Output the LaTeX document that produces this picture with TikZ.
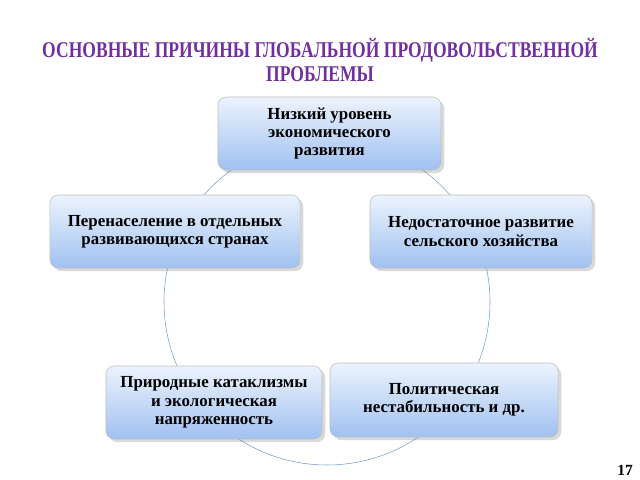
\documentclass[tikz,border=0pt]{standalone}
\usepackage{fontspec}
\setmainfont{Liberation Serif}
\usetikzlibrary{shadows}
\definecolor{titlepurple}{RGB}{112,48,160}
\definecolor{boxtop}{RGB}{236,243,253}
\definecolor{boxbottom}{RGB}{160,193,240}
\definecolor{ringblue}{RGB}{120,160,200}
\tikzset{
  cause/.style={draw=black!25, rounded corners=6pt, top color=boxtop, bottom color=boxbottom,
    drop shadow={opacity=0.3}, align=center, font=\bfseries\fontsize{12}{13}\selectfont,
    inner sep=0pt},
  heading/.style={text=titlepurple, font=\bfseries\fontsize{16}{17}\selectfont, align=center}
}
\begin{document}
\begin{tikzpicture}[x=0.025cm,y=-0.025cm]
  \useasboundingbox (0,0) rectangle (640,480);
  % ring behind the boxes
  \draw[ringblue] (327,302) circle (163);
  \node[heading] (title) at (320,60)
    {\scalebox{0.78}[1]{ОСНОВНЫЕ ПРИЧИНЫ ГЛОБАЛЬНОЙ ПРОДОВОЛЬСТВЕННОЙ}\\\scalebox{0.78}[1]{ПРОБЛЕМЫ}};
  \node[cause, minimum width=5.575cm, minimum height=1.825cm] (econ) at (329.5,133.5)
    {Низкий уровень\\экономического\\развития};
  \node[cause, minimum width=6.25cm, minimum height=1.825cm] (overpop) at (175,231.5)
    {Перенаселение в отдельных\\развивающихся странах};
  \node[cause, minimum width=5.55cm, minimum height=1.825cm] (agri) at (481,231.5)
    {Недостаточное развитие\\сельского хозяйства};
  \node[cause, minimum width=5.4cm, minimum height=1.825cm] (nature) at (214,402.5)
    {Природные катаклизмы\\и экологическая\\напряженность};
  \node[cause, minimum width=5.7cm, minimum height=1.85cm] (polit) at (444,400)
    {Политическая\\нестабильность и др.};
  \node[font=\bfseries\fontsize{11}{12}\selectfont] (page) at (625,470) {17};
\end{tikzpicture}
\end{document}
